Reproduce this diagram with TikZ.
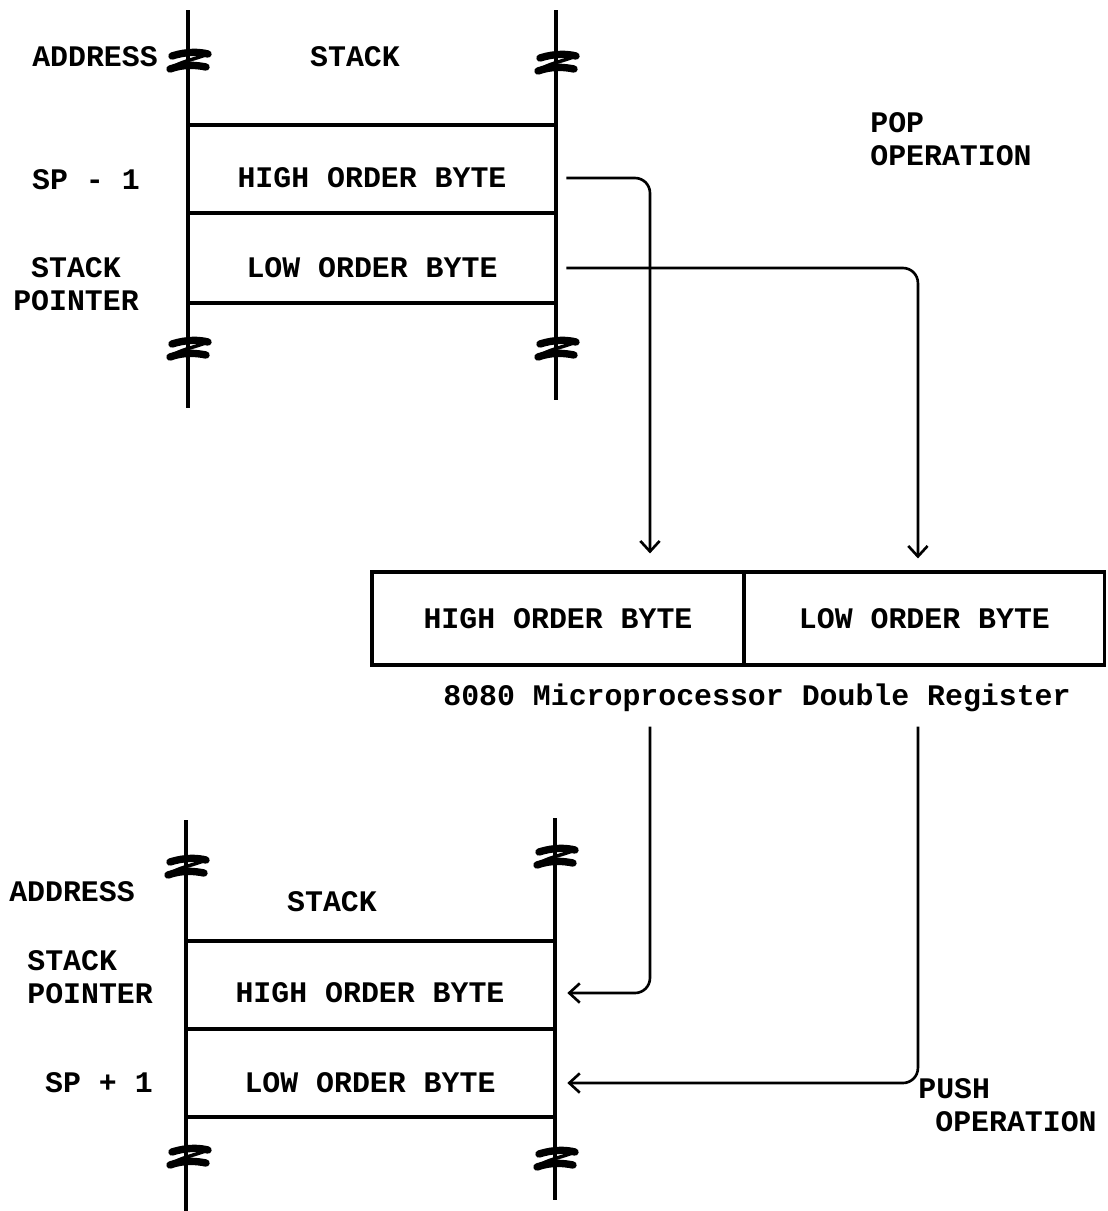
\documentclass[tikz,border=0pt]{standalone}
\usepackage{fontspec}
\setmonofont{Liberation Mono}
\usetikzlibrary{arrows.meta, positioning}

\tikzset{
	brk/.pic={
		\draw[line width=4.2pt, line cap=round]
		(-16,-6) .. controls (0,-11) and (12,-10) .. (20,-8);
		\draw[line width=4.2pt, line cap=round]
		(-18,7) .. controls (-4,2) and (8,3) .. (18,5);
		\draw[line width=2pt]
		(20,-8) .. controls (8,-3) and (-10,0) .. (-18,7);
	},
}

\begin{document}
\begin{tikzpicture}[
			x=0.02cm, y=-0.02cm,
			every node/.style={font=\ttfamily\bfseries\fontsize{17}{19}\selectfont,
				inner sep=0pt},
			cell/.style={minimum width=7.36cm},
			regbox/.style={draw, line width=1.8pt, minimum height=1.86cm},
			rail/.style={line width=1.8pt},
			arr/.style={-{Straight Barb[length=6pt, width=11pt]},
				line width=1.5pt, rounded corners=0.3cm},
			]
			\useasboundingbox (0,0) rectangle (1107,1211);

			% =============================================================
			%  TOP STACK (pop)
			% =============================================================
			\draw[rail] (188,10) -- (188,408);
			\draw[rail] (556,10) -- (556,400);
			\foreach \yy in {125, 213, 303}
			\draw[rail] (188,\yy) -- (556,\yy);
			\pic at (188,62) {brk};
			\pic at (556,64) {brk};
			\pic at (188,350) {brk};
			\pic at (556,350) {brk};

			\node (addrtop) at (95,57) {ADDRESS};
			\node (stacktop) at (355,57) {STACK};
			\node (spminus) at (86,180) {SP - 1};
			\node[align=center] (sptop) at (76,284) {STACK\\POINTER};
			\node[cell] (hitop) at (372,178) {HIGH ORDER BYTE};
			\node[cell] (lotop) at (372,268) {LOW ORDER BYTE};

			\node[align=left, anchor=west] (popop) at (870,139)
			{POP\\OPERATION};

			% =============================================================
			%  DOUBLE REGISTER
			% =============================================================
			\node[regbox, minimum width=7.44cm] (reghi) at (558,618.5)
			{HIGH ORDER BYTE};
			\node[regbox, minimum width=7.22cm, right=-1.8pt of reghi] (reglo)
			{LOW ORDER BYTE};
			\node (regcap) at (757,698) {8080 Microprocessor Double Register};

			% =============================================================
			%  BOTTOM STACK (push)
			% =============================================================
			\draw[rail] (186,820) -- (186,1211);
			\draw[rail] (555,818) -- (555,1200);
			\foreach \yy in {941, 1029, 1117}
			\draw[rail] (186,\yy) -- (555,\yy);
			\pic at (186,868) {brk};
			\pic at (555,858) {brk};
			\pic at (188,1158) {brk};
			\pic at (555,1160) {brk};

			\node (addrbot) at (72,892) {ADDRESS};
			\node (stackbot) at (332,902) {STACK};
			\node[align=left, anchor=west] (spbot) at (27,977) {STACK\\POINTER};
			\node (spplus) at (99,1083) {SP + 1};
			\node[cell] (hibot) at (370,993) {HIGH ORDER BYTE};
			\node[cell] (lobot) at (370,1083) {LOW ORDER BYTE};

			\node[align=left, anchor=west] (pushop) at (918,1105)
			{PUSH\\\hspace*{0.34cm}OPERATION};

			% ---- ARROWS: pop ----
			\draw[arr] ([xshift=0.2cm]hitop.east)
			-| ([xshift=1.84cm, yshift=0.34cm]reghi.north);
			\draw[arr] ([xshift=0.2cm]lotop.east)
			-| ([xshift=-0.13cm, yshift=0.24cm]reglo.north);

			% ---- ARROWS: push ----
			\draw[arr] ([xshift=1.84cm, yshift=-1.2cm]reghi.south)
			|- ([xshift=0.26cm]hibot.east);
			\draw[arr] ([xshift=-0.13cm, yshift=-1.2cm]reglo.south)
			|- ([xshift=0.26cm]lobot.east);
		\end{tikzpicture}
\end{document}
